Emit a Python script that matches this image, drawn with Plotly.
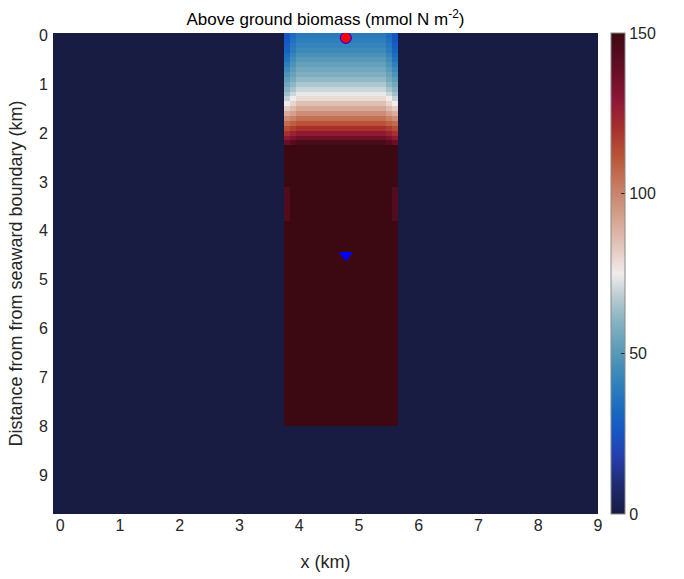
import plotly.graph_objects as go

# ---- data ----
row_centers_km = [0.0, 0.1, 0.2, 0.3, 0.4, 0.5, 0.6, 0.7, 0.8, 0.9, 1.0, 1.1,
                  1.2, 1.3, 1.4, 1.5, 1.6, 1.7, 1.8, 1.9, 2.0, 2.1, 2.2]
interior_biomass = [38, 40, 42, 44, 47, 50, 53, 56, 59, 62, 66, 70,
                    74, 79, 85, 91, 98, 105, 112, 120, 128, 137, 146]
near_edge_biomass = [33, 35, 37, 39, 42, 45, 48, 51, 54, 57, 61, 65,
                     70, 75, 80, 86, 93, 101, 109, 117, 125, 133, 143]
edge_biomass = [25, 26, 28, 30, 33, 36, 40, 44, 48, 52, 56, 60,
                64, 69, 75, 82, 90, 98, 106, 113, 120, 128, 138]
deep_biomass = 150          # saturated channel below ~2.2 km
edge_band_biomass = 144     # slightly lighter edge band
edge_band_km = [3.1, 3.8]
channel_x_km = [3.75, 5.65]
channel_end_km = 8.0
domain_x_km = [-0.12, 9.0]
domain_y_km = [-0.05, 9.8]
cell_km = 0.1

station_x = [4.78]
circle_y = [0.05]
triangle_y = [4.5]

# ---- build grid ----
n_ch = round((channel_x_km[1] - channel_x_km[0]) / cell_km)
x_edges = [domain_x_km[0]] + [round(channel_x_km[0] + k * cell_km, 3) for k in range(n_ch + 1)] + [domain_x_km[1]]
y_edges = [domain_y_km[0]] + [round(c + cell_km / 2, 3) for c in row_centers_km] + \
          [edge_band_km[0], edge_band_km[1], channel_end_km, domain_y_km[1]]

z = []
for e, n, i in zip(edge_biomass, near_edge_biomass, interior_biomass):
    z.append([0, e, n] + [i] * (n_ch - 4) + [n, e, 0])
z.append([0] + [deep_biomass] * n_ch + [0])
z.append([0, edge_band_biomass] + [deep_biomass] * (n_ch - 2) + [edge_band_biomass, 0])
z.append([0] + [deep_biomass] * n_ch + [0])
z.append([0] * (n_ch + 2))

balance = [
    [0.00, "#181c43"], [0.06, "#1e2a70"], [0.12, "#263fae"], [0.17, "#1556c4"],
    [0.22, "#1a6cc0"], [0.28, "#3584bb"], [0.34, "#5a9bb8"], [0.40, "#86b2c2"],
    [0.45, "#b8cbd1"], [0.50, "#f1eceb"], [0.56, "#e2c3b8"], [0.62, "#d4a08c"],
    [0.68, "#c77c62"], [0.74, "#ba5738"], [0.80, "#a8302d"], [0.86, "#8e1635"],
    [0.93, "#620e25"], [1.00, "#3c0912"],
]

family = "Liberation Sans, Arial, sans-serif"
font = dict(family=family, size=16, color="#262626")

fig = go.Figure()
fig.add_trace(go.Heatmap(
    x=x_edges, y=y_edges, z=z, zmin=0, zmax=150, colorscale=balance,
    showscale=True, hoverinfo="skip",
    colorbar=dict(
        thickness=14, len=1.0, lenmode="fraction", y=0.5, yanchor="middle",
        x=1.024, xanchor="left", xpad=0, ypad=0,
        tickvals=[0, 50, 100, 150], ticks="inside", ticklen=4, tickcolor="#262626",
        outlinewidth=1, outlinecolor="#888888",
        tickfont=font,
    ),
))
fig.add_trace(go.Scatter(
    x=station_x, y=circle_y, mode="markers", hoverinfo="skip",
    marker=dict(symbol="circle", size=11, color="red", line=dict(color="blue", width=1)),
))
fig.add_trace(go.Scatter(
    x=station_x, y=triangle_y, mode="markers", hoverinfo="skip",
    marker=dict(symbol="triangle-down", size=11, color="blue", line=dict(color="blue", width=1)),
))

fig.update_layout(
    width=684, height=579,
    margin=dict(l=53, r=86, t=33, b=65),
    paper_bgcolor="white", plot_bgcolor="#181c43",
    showlegend=False, font=font,
    title=dict(text="Above ground biomass (mmol N m<sup>-2</sup>)", x=0.5, xref="paper",
               xanchor="center", yref="container", y=1 - 19 / 579, yanchor="middle",
               font=dict(size=17, color="#000000", family=family)),
    xaxis=dict(range=domain_x_km, tickvals=list(range(10)), showgrid=False, zeroline=False,
               ticks="", automargin=False,
               title=dict(text="x (km)", standoff=22, font=dict(size=18, family=family)),
               tickfont=font),
    yaxis=dict(range=[domain_y_km[1], domain_y_km[0]], tickvals=list(range(10)), showgrid=False,
               zeroline=False, ticks="", automargin=False, ticklabelstandoff=4,
               title=dict(text="Distance from from seaward boundary (km)", standoff=11,
                          font=dict(size=18, family=family)),
               tickfont=font),
)
fig.write_html("out.html", config={"displayModeBar": False},
               post_script="document.body.style.margin='0';document.body.style.overflow='hidden';")
